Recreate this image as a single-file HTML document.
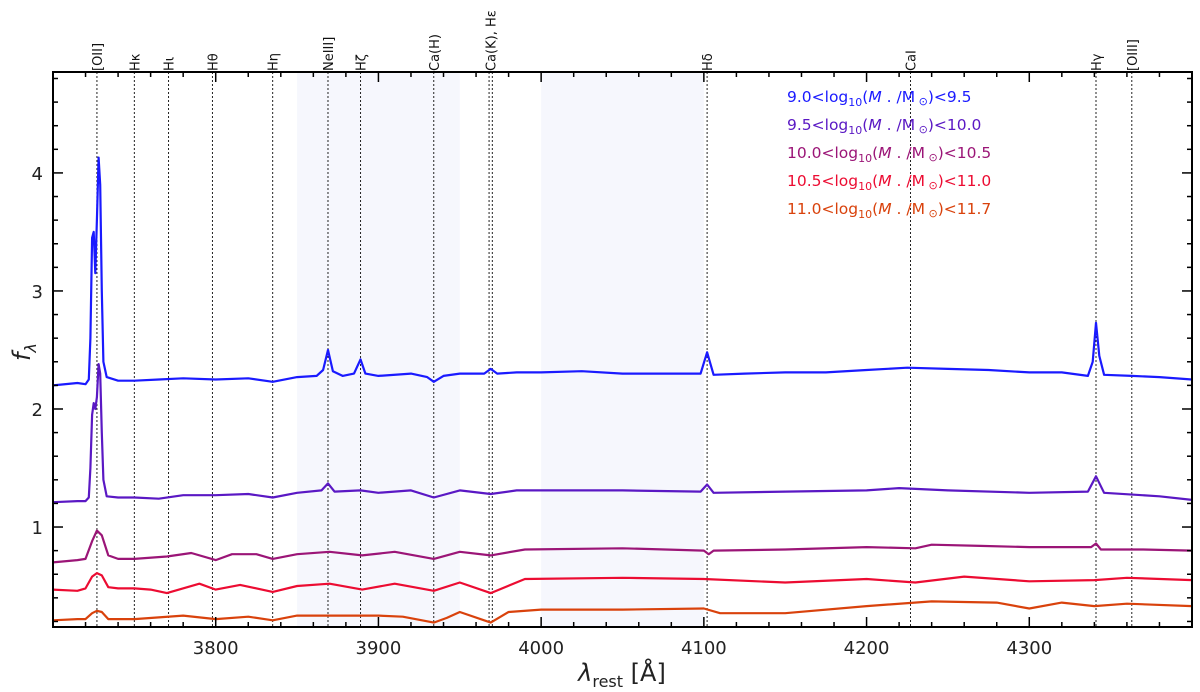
<!DOCTYPE html>
<html><head><meta charset="utf-8"><style>
body{margin:0;background:#fff;}
svg{display:block;font-family:"DejaVu Sans","Liberation Sans",sans-serif;}
</style></head><body>
<svg id="chart" width="1200" height="692"></svg>
<script>
// ---- data ----
const lineNames=["[OII]","Hκ","Hι","Hθ","Hη","NeIII]","Hζ","Ca(H)","Ca(K), Hε","Hδ","CaI","Hγ","[OIII]"];
const lineWaves=[3727,3750,3771,3798,3835,3869,3889,3934,3969,4102,4227,4341,4363];
const seriesLo=["9.0","9.5","10.0","10.5","11.0"];
const seriesHi=["9.5","10.0","10.5","11.0","11.7"];
const xTicks=[3800,3900,4000,4100,4200,4300];
const yTicks=[1,2,3,4];
const wl1=[3700,3715,3720,3722,3723,3724,3725,3726,3727,3728,3729,3730,3731,3733,3740,3750,3765,3780,3800,3820,3835,3850,3862,3866,3869,3872,3878,3885,3889,3892,3900,3920,3930,3934,3940,3950,3965,3969,3973,3985,4000,4025,4050,4075,4098,4102,4106,4125,4150,4175,4200,4225,4250,4275,4300,4320,4336,4339,4341,4343,4346,4363,4380,4400];
const fl1=[2.20,2.22,2.21,2.25,2.6,3.45,3.5,3.15,3.6,4.13,3.9,3.0,2.4,2.27,2.24,2.24,2.25,2.26,2.25,2.26,2.23,2.27,2.28,2.33,2.50,2.32,2.28,2.30,2.42,2.30,2.28,2.30,2.27,2.23,2.28,2.30,2.30,2.34,2.30,2.31,2.31,2.32,2.30,2.30,2.30,2.48,2.29,2.30,2.31,2.31,2.33,2.35,2.34,2.33,2.31,2.31,2.28,2.40,2.73,2.45,2.29,2.28,2.27,2.25];
const wl2=[3700,3715,3720,3722,3723,3724,3725,3726,3727,3728,3729,3730,3731,3733,3740,3750,3765,3780,3800,3820,3835,3850,3865,3869,3873,3889,3900,3920,3934,3950,3969,3985,4000,4050,4098,4102,4106,4150,4200,4220,4250,4300,4336,4341,4346,4380,4400];
const fl2=[1.21,1.22,1.22,1.25,1.5,1.95,2.05,2.0,2.1,2.38,2.3,1.8,1.4,1.26,1.25,1.25,1.24,1.27,1.27,1.28,1.25,1.29,1.31,1.37,1.30,1.31,1.29,1.31,1.25,1.31,1.28,1.31,1.31,1.31,1.30,1.36,1.29,1.30,1.31,1.33,1.31,1.29,1.30,1.43,1.29,1.26,1.23];
const wl3=[3700,3715,3720,3724,3727,3730,3734,3740,3750,3770,3785,3800,3810,3825,3835,3850,3870,3890,3910,3934,3950,3969,3990,4050,4100,4103,4106,4150,4200,4230,4240,4270,4300,4338,4341,4344,4370,4400];
const fl3=[0.70,0.72,0.73,0.88,0.97,0.93,0.76,0.73,0.73,0.75,0.78,0.72,0.77,0.77,0.73,0.77,0.79,0.76,0.79,0.73,0.79,0.76,0.81,0.82,0.80,0.77,0.80,0.81,0.83,0.82,0.85,0.84,0.83,0.83,0.86,0.81,0.81,0.80];
const wl4=[3700,3715,3720,3724,3727,3730,3734,3740,3750,3760,3770,3790,3800,3815,3835,3850,3870,3890,3910,3934,3950,3969,3990,4050,4100,4150,4200,4230,4260,4300,4340,4360,4400];
const fl4=[0.47,0.46,0.48,0.58,0.61,0.59,0.49,0.48,0.48,0.47,0.44,0.52,0.47,0.51,0.45,0.50,0.52,0.47,0.52,0.46,0.53,0.44,0.56,0.57,0.56,0.53,0.56,0.53,0.58,0.54,0.55,0.57,0.55];
const wl5=[3700,3715,3720,3724,3727,3730,3734,3750,3780,3800,3820,3835,3850,3900,3915,3934,3942,3950,3969,3980,4000,4050,4100,4110,4150,4200,4240,4280,4300,4320,4340,4360,4400];
const fl5=[0.21,0.22,0.22,0.27,0.29,0.28,0.22,0.22,0.25,0.22,0.24,0.21,0.25,0.25,0.24,0.19,0.23,0.28,0.19,0.28,0.30,0.30,0.31,0.27,0.27,0.33,0.37,0.36,0.31,0.36,0.33,0.35,0.33];
const wls=[wl1,wl2,wl3,wl4,wl5];
const fls=[fl1,fl2,fl3,fl4,fl5];
const colors=["#1a1aff","#5a18c4","#9b1577","#ec0c32","#d9420c"];

// ---- axes ----
const X0=53,X1=1192,Y0=72,Y1=627,XMIN=3700,XMAX=4400,YMIN=0.153,YMAX=4.855;
const sx=v=>X0+(v-XMIN)/(XMAX-XMIN)*(X1-X0);
const sy=v=>Y1-(v-YMIN)/(YMAX-YMIN)*(Y1-Y0);
const NS="http://www.w3.org/2000/svg";
const svg=document.getElementById('chart');
function mk(tag,attrs,parent){const e=document.createElementNS(NS,tag);for(const k in attrs)e.setAttribute(k,attrs[k]);(parent||svg).appendChild(e);return e;}

const shades=[[3850,3950],[4000,4100]];
shades.forEach((s,i)=>{const r=mk('rect',{x:sx(s[0]),y:Y0,width:sx(s[1])-sx(s[0]),height:Y1-Y0,fill:'#f6f7fd'});

});

lineWaves.forEach((w,i)=>{
  const ws = i===8 ? [3968,3970] : [w];
  ws.forEach(ww=>{const l=mk('line',{x1:sx(ww),x2:sx(ww),y1:Y0,y2:Y1,stroke:'#222','stroke-width':1,'stroke-dasharray':'2,2'});
  
  });
  const t=mk('text',{x:0,y:0,transform:`translate(${sx(w)+5},${Y0-1}) rotate(-90)`,'font-size':13,fill:'#111'});
  t.textContent=lineNames[i];
  
  
});

fls.forEach((f,si)=>{
  const d=f.map((v,i)=>(i?'L':'M')+sx(wls[si][i]).toFixed(1)+','+sy(v).toFixed(1)).join('');
  const p=mk('path',{d:d,fill:'none',stroke:colors[si],'stroke-width':2.2,'stroke-linejoin':'round'});
  
  
});

const fr=mk('rect',{x:X0,y:Y0,width:X1-X0,height:Y1-Y0,fill:'none',stroke:'#000','stroke-width':2});



for(let w=3700;w<=4400;w+=20){
  const major=w%100===0, len=major?10:5;
  mk('line',{x1:sx(w),x2:sx(w),y1:Y1,y2:Y1-len,stroke:'#000','stroke-width':1.5});
  mk('line',{x1:sx(w),x2:sx(w),y1:Y0,y2:Y0+len,stroke:'#000','stroke-width':1.5});
}
xTicks.forEach(v=>{const t=mk('text',{x:sx(v),y:Y1+27,'text-anchor':'middle','font-size':18,fill:'#222'});t.textContent=v;

});
for(let k=1;k<=24;k++){
  const v=k*0.2; if(v<YMIN||v>YMAX) continue;
  const major=Math.abs(v-Math.round(v))<1e-6, len=major?10:5;
  mk('line',{x1:X0,x2:X0+len,y1:sy(v),y2:sy(v),stroke:'#000','stroke-width':1.5});
  mk('line',{x1:X1,x2:X1-len,y1:sy(v),y2:sy(v),stroke:'#000','stroke-width':1.5});
}
yTicks.forEach(v=>{const t=mk('text',{x:X0-10,y:sy(v)+7,'text-anchor':'end','font-size':18,fill:'#222'});t.textContent=v;

});

const xt=mk('text',{x:622,y:681,'text-anchor':'middle','font-size':24,fill:'#222'});
xt.innerHTML='<tspan font-style="italic">λ</tspan><tspan font-size="16" dy="6">rest</tspan><tspan dy="-6"> [Å]</tspan>';


const yt=mk('text',{x:0,y:0,transform:'translate(30,352) rotate(-90)','text-anchor':'middle','font-size':24,fill:'#222'});
yt.innerHTML='<tspan font-style="italic">f</tspan><tspan font-size="16" dy="6" font-style="italic">λ</tspan>';



seriesLo.forEach((lo,i)=>{
  const t=mk('text',{x:787,y:102+i*28,'font-size':15.5,fill:colors[i]});
  t.innerHTML=lo+'&lt;log<tspan font-size="11" dy="4">10</tspan><tspan dy="-4">(</tspan><tspan font-style="italic">M</tspan> . /M<tspan font-size="11" dy="3"> ⊙</tspan><tspan dy="-3">)&lt;'+seriesHi[i]+'</tspan>';
  
  
});
</script>
</body></html>
